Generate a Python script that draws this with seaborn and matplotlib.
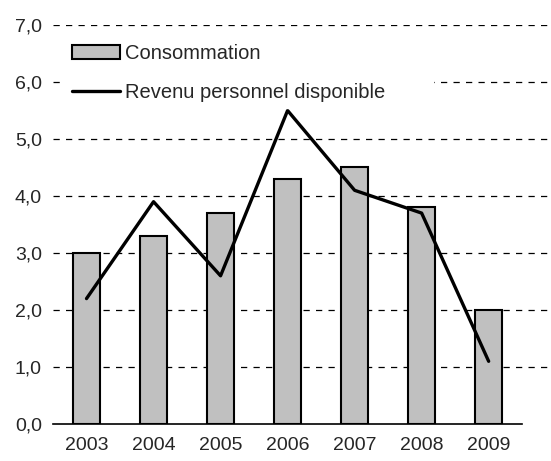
import numpy as np
import matplotlib
matplotlib.use('Agg')
import matplotlib.pyplot as plt
import seaborn as sns
from matplotlib.patches import Patch
from matplotlib.lines import Line2D
from matplotlib.ticker import FuncFormatter, FixedLocator

years = ['2003', '2004', '2005', '2006', '2007', '2008', '2009']
consommation = [3.0, 3.3, 3.7, 4.3, 4.5, 3.8, 2.0]
revenu = [2.2, 3.9, 2.6, 5.5, 4.1, 3.7, 1.1]

sns.set_style('white')
plt.rcParams['font.family'] = ['Liberation Sans', 'DejaVu Sans']
plt.rcParams['font.size'] = 14

fig = plt.figure(figsize=(5.51, 4.61), dpi=100)
ax = fig.add_axes([53 / 551, 1 - 424 / 461, 1 - 53 / 551, (424 - 25) / 461])

# bars
sns.barplot(x=years, y=consommation, color='#c0c0c0', edgecolor='black',
            linewidth=1.5, width=0.4, saturation=1, ax=ax, zorder=3)
# line
sns.lineplot(x=np.arange(len(years)), y=revenu, color='black', linewidth=2.4,
             ax=ax, zorder=4)

ax.set_ylim(0, 7)
ax.set_xlim(-0.5, 6.93)
ax.set_yticks(np.arange(0, 8, 1))
ax.yaxis.set_major_formatter(FuncFormatter(lambda v, p: f'{v:.1f}'.replace('.', ',')))
ax.tick_params(axis='y', length=0, pad=8, labelsize=14)
ax.tick_params(axis='x', which='major', length=0, pad=9, labelsize=14)
ax.xaxis.set_minor_locator(FixedLocator(np.arange(-0.5, 7, 1)))
ax.tick_params(axis='x', which='minor', length=6, width=1.2, direction='inout', color='black')

for v in range(1, 8):
    ax.axhline(v, color='black', linewidth=0.9, linestyle=(0, (5, 5)), zorder=1)

for s in ['top', 'right', 'left']:
    ax.spines[s].set_visible(False)
ax.spines['bottom'].set_bounds(-0.5, 6.5)
ax.spines['bottom'].set_linewidth(1.2)
ax.spines['bottom'].set_color('black')
ax.set_xlabel('')
ax.set_ylabel('')

handles = [Patch(facecolor='#c0c0c0', edgecolor='black', linewidth=1.5),
           Line2D([], [], color='black', linewidth=2.4)]
leg = ax.legend(handles, ['Consommation', 'Revenu personnel disponible'],
                loc='upper left',
                bbox_to_anchor=(66 / 551, 1 - 110 / 461, (433 - 66) / 551, 72 / 461),
                bbox_transform=fig.transFigure, mode='expand', frameon=True, framealpha=1,
                edgecolor='white', fancybox=False, fontsize=14.5,
                handlelength=2.4, handleheight=0.75, handletextpad=0.25,
                labelspacing=1.0, borderpad=0.3, borderaxespad=0)
leg.set_zorder(5)

fig.savefig('out.png', dpi=100)
